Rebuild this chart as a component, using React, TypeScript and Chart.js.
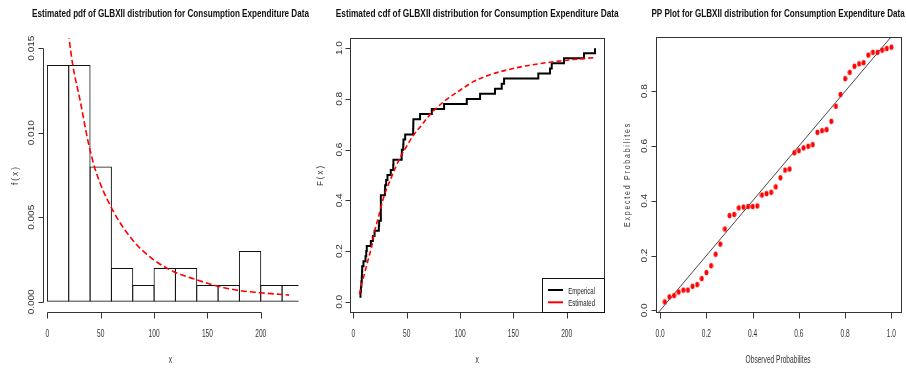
import React, { useEffect, useRef } from "react";
import { Chart, registerables } from "chart.js";
Chart.register(...registerables);

// ---------- Panel 1: histogram + fitted pdf ----------
const histBinCenters = [10, 30, 50, 70, 90, 110, 130, 150, 170, 190, 210, 230];
const histDensity = [0.014, 0.014, 0.008, 0.002, 0.001, 0.002, 0.002, 0.001, 0.001, 0.003, 0.001, 0.001];
const pdfX = [17, 20.3, 23.8, 30.7, 38.4, 45, 59.7, 80.6, 99.4, 118.1, 140.1, 158.8, 180.7, 199.4, 226.6];
const pdfY = [0.0175, 0.0156, 0.014, 0.0119, 0.0094, 0.0078, 0.0056, 0.0036, 0.0025, 0.0018, 0.0013, 0.00094, 0.00066, 0.00054, 0.0004];
const p1XTicks = [0, 50, 100, 150, 200];
const p1XTickLabels = ["0", "50", "100", "150", "200"];
const p1YTicks = [0, 0.005, 0.01, 0.015];
const p1YTickLabels = ["0.000", "0.005", "0.010", "0.015"];

// ---------- Panel 2: empirical vs estimated cdf ----------
const ecdfX = [5.6, 6.6, 7.0, 7.4, 7.8, 8.0, 8.2, 9.4, 11.3, 12.0, 12.5, 16.3, 18.2, 19.8, 23.8, 24.1, 25.7, 25.7, 25.7, 25.7, 25.7, 29.5, 29.7, 30.7, 31.9, 35.0, 37.3, 37.5, 45.2, 45.4, 46.7, 46.9, 48.5, 56.0, 56.1, 56.2, 62.5, 73.5, 85.0, 106.3, 118.8, 132.8, 139.1, 141.3, 173.4, 184.4, 186.0, 197.5, 216.3, 226.6];
const ecdfY = [0.02, 0.04, 0.06, 0.08, 0.10, 0.12, 0.14, 0.16, 0.18, 0.20, 0.22, 0.24, 0.26, 0.28, 0.30, 0.32, 0.34, 0.36, 0.38, 0.40, 0.42, 0.44, 0.46, 0.48, 0.50, 0.52, 0.54, 0.56, 0.58, 0.60, 0.62, 0.64, 0.66, 0.68, 0.70, 0.72, 0.74, 0.76, 0.78, 0.80, 0.82, 0.84, 0.86, 0.88, 0.90, 0.92, 0.94, 0.96, 0.98, 1.00];
const cdfX = [5.6, 7.2, 9, 11, 14, 17.2, 20, 23.5, 25.7, 28.1, 31, 35, 40, 45, 50, 56, 64, 73.5, 85, 100, 112.5, 128, 144, 159, 175, 191, 206, 226.6];
const cdfY = [0.03, 0.06, 0.09, 0.122, 0.17, 0.22, 0.28, 0.335, 0.372, 0.408, 0.444, 0.485, 0.535, 0.578, 0.614, 0.655, 0.697, 0.746, 0.79, 0.834, 0.868, 0.895, 0.914, 0.928, 0.939, 0.948, 0.955, 0.963];
const p2XTicks = [0, 50, 100, 150, 200];
const p2XTickLabels = ["0", "50", "100", "150", "200"];
const p2YTicks = [0, 0.2, 0.4, 0.6, 0.8, 1.0];
const p2YTickLabels = ["0.0", "0.2", "0.4", "0.6", "0.8", "1.0"];
const legendLabels = ["Emperical", "Estimated"];

// ---------- Panel 3: PP plot ----------
const ppObserved = [0.02, 0.04, 0.06, 0.08, 0.10, 0.12, 0.14, 0.16, 0.18, 0.20, 0.22, 0.24, 0.26, 0.28, 0.30, 0.32, 0.34, 0.36, 0.38, 0.40, 0.42, 0.44, 0.46, 0.48, 0.50, 0.52, 0.54, 0.56, 0.58, 0.60, 0.62, 0.64, 0.66, 0.68, 0.70, 0.72, 0.74, 0.76, 0.78, 0.80, 0.82, 0.84, 0.86, 0.88, 0.90, 0.92, 0.94, 0.96, 0.98, 1.00];
const ppExpected = [0.031, 0.049, 0.054, 0.067, 0.074, 0.074, 0.088, 0.094, 0.116, 0.138, 0.163, 0.205, 0.242, 0.297, 0.346, 0.35, 0.374, 0.377, 0.379, 0.379, 0.381, 0.421, 0.426, 0.431, 0.451, 0.484, 0.512, 0.516, 0.575, 0.583, 0.593, 0.599, 0.605, 0.65, 0.656, 0.66, 0.69, 0.745, 0.788, 0.846, 0.869, 0.891, 0.9, 0.904, 0.932, 0.942, 0.942, 0.95, 0.956, 0.961];
const diagX = [-0.05, 1.05];
const diagY = [-0.05, 1.05];
const p3XTicks = [0, 0.2, 0.4, 0.6, 0.8, 1.0];
const p3XTickLabels = ["0.0", "0.2", "0.4", "0.6", "0.8", "1.0"];
const p3YTicks = [0, 0.2, 0.4, 0.6, 0.8];
const p3YTickLabels = ["0.0", "0.2", "0.4", "0.6", "0.8"];

const titles = [
  "Estimated pdf of GLBXII distribution for Consumption Expenditure Data",
  "Estimated cdf of GLBXII distribution for Consumption Expenditure Data",
  "PP Plot for GLBXII distribution for Consumption Expenditure Data",
];

const FONT = '"Liberation Sans", Arial, Helvetica, sans-serif';
const W = 906;
const H = 369;

function drawText(ctx: CanvasRenderingContext2D, text: string, x: number, y: number, o: any) {
  ctx.save();
  ctx.translate(x, y);
  if (o.rot) ctx.rotate(o.rot);
  ctx.font = o.font;
  ctx.textAlign = o.align || "center";
  ctx.textBaseline = o.baseline || "alphabetic";
  if (o.spacing) (ctx as any).letterSpacing = o.spacing + "px";
  let sx = o.sx ?? 1;
  if (o.width) sx = o.width / ctx.measureText(text).width;
  ctx.scale(sx, o.sy ?? 1);
  ctx.fillStyle = o.color || "#222";
  ctx.fillText(text, 0, 0);
  ctx.restore();
}

const rPlugin = {
  id: "rAxes",
  afterDraw(chart: any, _a: any, opts: any) {
    const ctx: CanvasRenderingContext2D = chart.ctx;
    const { left, right, top, bottom } = chart.chartArea;
    const xs = chart.scales.x;
    const ys = chart.scales.y;
    const pr = (v: number) => Math.round(v) + 0.5;
    ctx.save();
    ctx.strokeStyle = "#333";
    ctx.lineWidth = 1;
    if (opts.box) {
      ctx.strokeRect(pr(left), pr(top), Math.round(right) - Math.round(left), Math.round(bottom) - Math.round(top));
    }
    // x axis
    const xt: number[] = opts.xTicks;
    const yb = pr(bottom);
    ctx.beginPath();
    ctx.moveTo(pr(xs.getPixelForValue(xt[0])), yb);
    ctx.lineTo(pr(xs.getPixelForValue(xt[xt.length - 1])), yb);
    xt.forEach((t) => {
      const p = pr(xs.getPixelForValue(t));
      ctx.moveTo(p, yb);
      ctx.lineTo(p, yb + 6);
    });
    // y axis
    const yt: number[] = opts.yTicks;
    const xl = pr(left);
    ctx.moveTo(xl, pr(ys.getPixelForValue(yt[0])));
    ctx.lineTo(xl, pr(ys.getPixelForValue(yt[yt.length - 1])));
    yt.forEach((t) => {
      const p = pr(ys.getPixelForValue(t));
      ctx.moveTo(xl, p);
      ctx.lineTo(xl - 5, p);
    });
    ctx.stroke();

    const tickFont = "10px " + FONT;
    xt.forEach((t, i) => {
      drawText(ctx, opts.xTickLabels[i], xs.getPixelForValue(t), 336.7, { font: tickFont, sx: 0.66, color: "#333" });
    });
    yt.forEach((t, i) => {
      drawText(ctx, opts.yTickLabels[i], left - 8.5, ys.getPixelForValue(t), { font: tickFont, rot: -Math.PI / 2, sy: 0.93, color: "#333" });
    });

    const cx = (left + right) / 2;
    const cy = (top + bottom) / 2;
    drawText(ctx, opts.title, cx, 17.3, { font: "bold 11px " + FONT, width: opts.titleW, color: "#111" });
    drawText(ctx, opts.xTitle, cx, 362.5, { font: "10.5px " + FONT, sx: opts.xTitleSx ?? 0.63, color: "#333" });
    drawText(ctx, opts.yTitle, left - opts.yTitleOff, cy, {
      font: "10px " + FONT, rot: -Math.PI / 2, baseline: "middle", spacing: 2.5, width: opts.yTitleLen, sy: 0.93, color: "#333",
    });

    if (opts.legend) {
      const lg = opts.legend;
      ctx.strokeStyle = "#111";
      ctx.lineWidth = 1;
      ctx.strokeRect(pr(lg.x1), pr(lg.y1), Math.round(right) - Math.round(lg.x1), Math.round(bottom) - Math.round(lg.y1));
      lg.items.forEach((it: any) => {
        ctx.strokeStyle = it.color;
        ctx.lineWidth = 2;
        ctx.setLineDash([]);
        ctx.beginPath();
        ctx.moveTo(548, it.y);
        ctx.lineTo(563, it.y);
        ctx.stroke();
        drawText(ctx, it.label, 568.3, it.y + 3.5, { font: "8.5px " + FONT, align: "left", width: 26.7, color: "#222" });
      });
    }
    ctx.restore();
  },
};

function pad(l: number, t: number, r: number, b: number) {
  return { left: l, top: t, right: W - r, bottom: H - b };
}

function baseOptions(area: number[], x: number[], y: number[], axes: any) {
  return {
    animation: false,
    responsive: false,
    maintainAspectRatio: false,
    events: [],
    layout: { padding: pad(area[0], area[1], area[2], area[3]) },
    scales: {
      x: { type: "linear", min: x[0], max: x[1], display: false, offset: false },
      y: { type: "linear", min: y[0], max: y[1], display: false },
    },
    plugins: { legend: { display: false }, tooltip: { enabled: false }, title: { display: false }, rAxes: axes },
  };
}

export default function App() {
  const r1 = useRef<HTMLCanvasElement>(null);
  const r2 = useRef<HTMLCanvasElement>(null);
  const r3 = useRef<HTMLCanvasElement>(null);

  useEffect(() => {
    const dot = document.createElement("canvas");
    dot.width = 5;
    dot.height = 7;
    const dctx = dot.getContext("2d")!;
    dctx.fillStyle = "#ff0000";
    dctx.beginPath();
    dctx.ellipse(2.5, 3.5, 2.0, 2.8, 0, 0, Math.PI * 2);
    dctx.fill();

    // bars 1px wider than the bin so that neighbouring outlines coincide (like R's rect strokes)
    const binPx = (298.5 - 42.5) / (235.4 + 4.6) * 20;

    const c1 = new Chart(r1.current!, {
      type: "bar",
      data: {
        datasets: [
          {
            type: "line",
            label: "pdf",
            data: pdfX.map((x, i) => ({ x, y: pdfY[i] })),
            borderColor: "#ff0000",
            borderWidth: 1.6,
            borderDash: [6, 3],
            pointRadius: 0,
            fill: false,
            cubicInterpolationMode: "monotone",
            clip: 0,
          },
          {
            type: "bar",
            label: "hist",
            data: histBinCenters.map((x, i) => ({ x, y: histDensity[i] })),
            backgroundColor: "rgba(0,0,0,0)",
            borderColor: "#111",
            borderWidth: 1,
            borderSkipped: false,
            barPercentage: (binPx + 1) / binPx,
            categoryPercentage: 1,
            clip: 0,
          },
        ],
      } as any,
      options: baseOptions([42.5, 38, 298.5, 312], [-4.6, 235.4], [-0.0006, 0.0156], {
        box: false,
        xTicks: p1XTicks, xTickLabels: p1XTickLabels, yTicks: p1YTicks, yTickLabels: p1YTickLabels,
        title: titles[0], titleW: 277, xTitle: "x", yTitle: "f(x)", yTitleOff: 27.5, yTitleLen: 20,
      }) as any,
      plugins: [rPlugin],
    });

    const c2 = new Chart(r2.current!, {
      type: "line",
      data: {
        datasets: [
          {
            label: legendLabels[1],
            data: cdfX.map((x, i) => ({ x, y: cdfY[i] })),
            borderColor: "#ff0000",
            borderWidth: 1.6,
            borderDash: [5, 3],
            pointRadius: 0,
            fill: false,
            cubicInterpolationMode: "monotone",
            clip: 0,
          },
          {
            label: legendLabels[0],
            data: ecdfX.map((x, i) => ({ x, y: ecdfY[i] })),
            borderColor: "#000",
            borderWidth: 2,
            pointRadius: 0,
            fill: false,
            stepped: "before",
            clip: 0,
          },
        ],
      } as any,
      options: baseOptions([350, 38, 604.4, 312], [-3.24, 235.4], [-0.04, 1.04], {
        box: true,
        xTicks: p2XTicks, xTickLabels: p2XTickLabels, yTicks: p2YTicks, yTickLabels: p2YTickLabels,
        title: titles[1], titleW: 283, xTitle: "x", yTitle: "F(x)", yTitleOff: 29.3, yTitleLen: 22,
        legend: {
          x1: 541.7, y1: 278.3,
          items: [
            { label: legendLabels[0], color: "#000", y: 290 },
            { label: legendLabels[1], color: "#ff0000", y: 302.3 },
          ],
        },
      }) as any,
      plugins: [rPlugin],
    });

    const c3 = new Chart(r3.current!, {
      type: "scatter",
      data: {
        datasets: [
          {
            label: "pp",
            data: ppObserved.map((x, i) => ({ x, y: ppExpected[i] })),
            pointStyle: dot,
            pointRadius: 3,
            showLine: false,
            clip: 0,
          },
          {
            label: "diag",
            data: diagX.map((x, i) => ({ x, y: diagY[i] })),
            borderColor: "#333",
            borderWidth: 0.9,
            pointRadius: 0,
            showLine: true,
            clip: 0,
          },
        ],
      } as any,
      options: baseOptions([655.7, 37, 900.5, 312], [-0.0192, 1.0392], [-0.006, 0.998], {
        box: true,
        xTicks: p3XTicks, xTickLabels: p3XTickLabels, yTicks: p3YTicks, yTickLabels: p3YTickLabels,
        title: titles[2], titleW: 253.3, xTitle: "Observed Probabilites", yTitle: "Expected Probabilites", yTitleOff: 28.2, yTitleLen: 105,
      }) as any,
      plugins: [rPlugin],
    });

    return () => {
      c1.destroy();
      c2.destroy();
      c3.destroy();
    };
  }, []);

  const cs: React.CSSProperties = { position: "absolute", left: 0, top: 0, width: W, height: H };
  return (
    <div style={{ position: "fixed", left: 0, top: 0, width: W, height: H, background: "#fff" }}>
      <canvas ref={r1} width={W} height={H} style={cs} />
      <canvas ref={r2} width={W} height={H} style={cs} />
      <canvas ref={r3} width={W} height={H} style={cs} />
    </div>
  );
}
